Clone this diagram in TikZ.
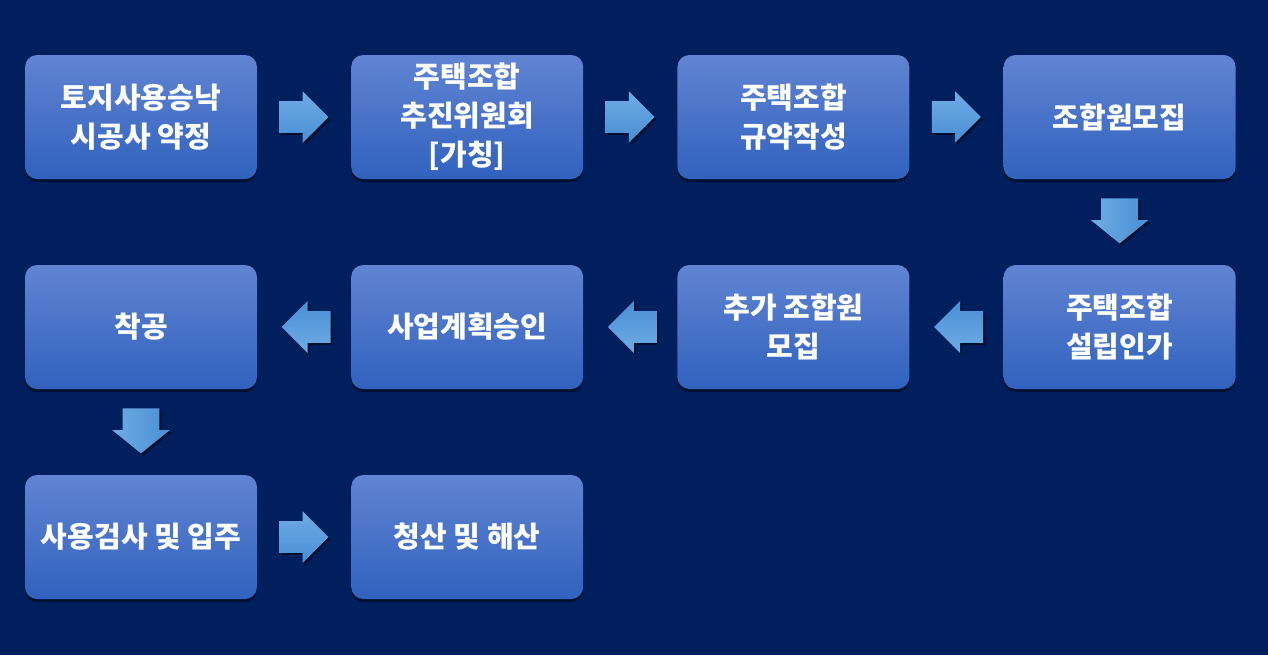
\documentclass[tikz,border=0pt]{standalone}
\usepackage{fontspec}
\setmainfont{Noto Sans CJK KR}
\usetikzlibrary{positioning,shapes.arrows,shadows,calc}
\definecolor{bgblue}{RGB}{0,31,92}
\definecolor{boxtop}{RGB}{97,132,210}
\definecolor{boxbot}{RGB}{48,98,190}
\definecolor{arrtop}{RGB}{112,172,228}
\definecolor{arrbot}{RGB}{72,142,212}
\tikzset{
  box/.style={rectangle, rounded corners=6pt, minimum width=116pt, minimum height=62pt,
    top color=boxtop, bottom color=boxbot, text=white, align=center,
    font=\bfseries\fontsize{14.5pt}{19.5pt}\selectfont,
    drop shadow={shadow xshift=0pt, shadow yshift=-1.5pt, opacity=0.45, fill=black}},
  flow/.style={single arrow, inner sep=0pt, minimum height=24.5pt, anchor=tail,
    single arrow head extend=5pt, single arrow tip angle=90,
    top color=arrtop, bottom color=arrbot,
    drop shadow={shadow xshift=1pt, shadow yshift=-1pt, opacity=0.5, fill=black}},
  flowleft/.style={flow, rotate=180, top color=arrbot, bottom color=arrtop},
  flowdown/.style={flow, rotate=-90, minimum height=22.5pt, left color=arrtop, right color=arrbot,
    single arrow head extend=5.25pt, single arrow tip angle=102}
}
\newcommand{\shaft}[1]{\rule{0pt}{#1}}

\begin{document}
\begin{tikzpicture}

\fill [bgblue] (0,0) rectangle (634pt,-327.5pt);
\useasboundingbox (0,0) rectangle (634pt,-327.5pt);

% first row
\node [box] (land) at (70.5pt,-58.5pt) {토지사용승낙\\시공사 약정};
\node [box] (committee) [right=46.7pt of land] {주택조합\\추진위원회\\{[}가칭{]}};
\node [box] (bylaws) [right=46.7pt of committee] {주택조합\\규약작성};
\node [box] (recruit) [right=46.7pt of bylaws] {조합원모집};

% second row
\node [box] (approval) [below=42.6pt of recruit] {주택조합\\설립인가};
\node [box] (more) [left=46.7pt of approval] {추가 조합원\\모집};
\node [box] (plan) [left=46.7pt of more] {사업계획승인};
\node [box] (start) [left=46.7pt of plan] {착공};

% third row
\node [box] (movein) [below=42.6pt of start] {사용검사 및 입주};
\node [box] (close) [right=46.7pt of movein] {청산 및 해산};

\node [flow] (a1) at ($(land.east)!0.5!(committee.west)+(-12.5pt,0)$) {\shaft{15.5pt}};
\node [flow] (a2) at ($(committee.east)!0.5!(bylaws.west)+(-12.5pt,0)$) {\shaft{15.5pt}};
\node [flow] (a3) at ($(bylaws.east)!0.5!(recruit.west)+(-12.5pt,0)$) {\shaft{15.5pt}};
\node [flowdown] (a4) at ($(recruit.south)!0.5!(approval.north)+(0,12pt)$) {\shaft{18pt}};
\node [flowleft] (a5) at ($(approval.west)!0.5!(more.east)+(13.5pt,0)$) {\shaft{15.5pt}};
\node [flowleft] (a6) at ($(more.west)!0.5!(plan.east)+(13.5pt,0)$) {\shaft{15.5pt}};
\node [flowleft] (a7) at ($(plan.west)!0.5!(start.east)+(13.5pt,0)$) {\shaft{15.5pt}};
\node [flowdown] (a8) at ($(start.south)!0.5!(movein.north)+(0,12pt)$) {\shaft{18pt}};
\node [flow] (a9) at ($(movein.east)!0.5!(close.west)+(-12.5pt,0)$) {\shaft{15.5pt}};

\end{tikzpicture}
\end{document}
